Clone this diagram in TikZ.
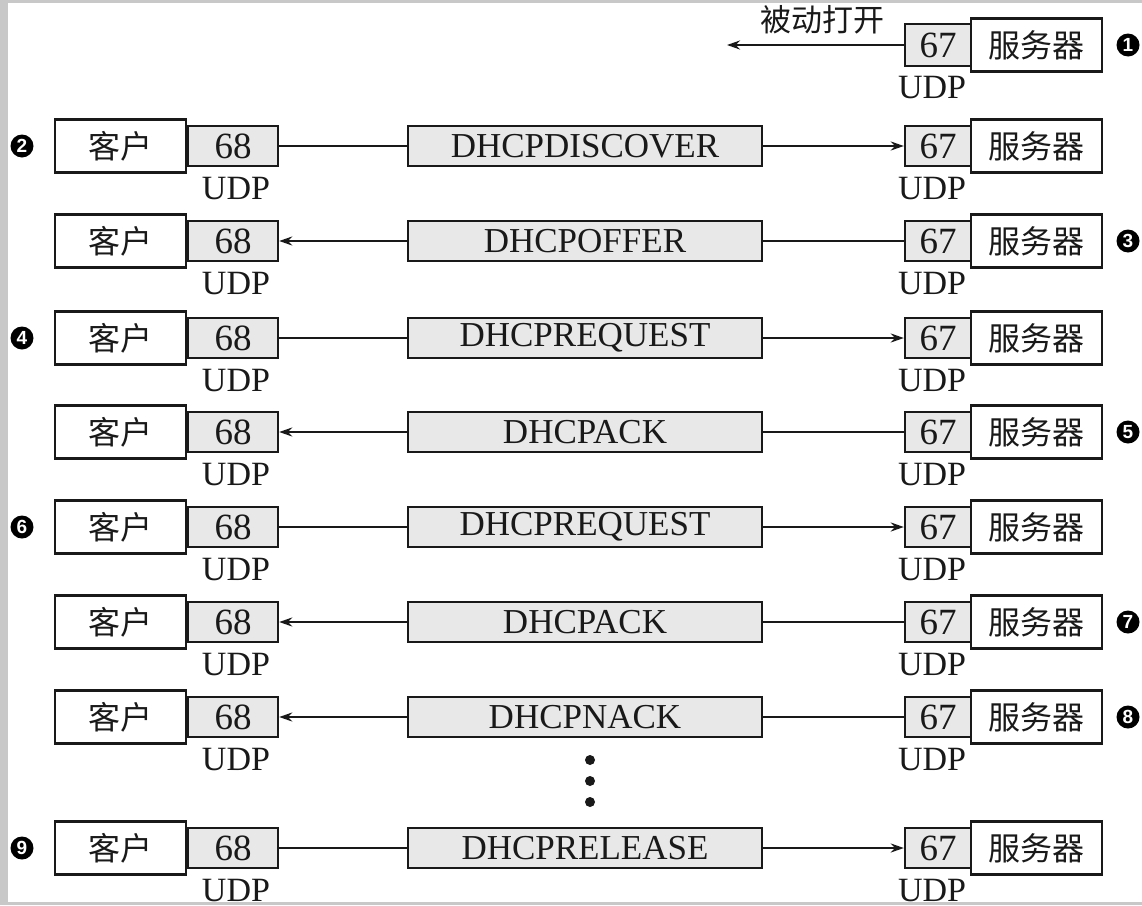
\documentclass[tikz,border=0pt]{standalone}
\usepackage{fontspec}
\setmainfont{Liberation Serif}
\newfontfamily\cjk{Noto Sans CJK SC}
\newfontfamily\numf{Liberation Sans}
\usetikzlibrary{arrows.meta}
\definecolor{boxgrey}{RGB}{232,232,232}
\definecolor{framegrey}{RGB}{200,200,200}
\definecolor{ink}{RGB}{25,25,25}
\begin{document}
\begin{tikzpicture}[x=1pt,y=-1pt,
 ent/.style={draw=ink, line width=2.4pt, fill=white, minimum width=131pt, minimum height=53pt, inner sep=0pt, text=ink, font=\cjk\fontsize{32}{36}\selectfont},
 lport/.style={draw=ink, line width=2.4pt, fill=boxgrey, minimum width=90pt, minimum height=40pt, inner sep=0pt, text=ink, font=\fontsize{37}{40}\selectfont},
 rport/.style={lport, minimum width=66pt},
 msg/.style={draw=ink, line width=2.4pt, fill=boxgrey, minimum width=354pt, minimum height=40pt, inner sep=0pt, text=ink, font=\fontsize{35}{38}\selectfont},
 udp/.style={inner sep=0pt, text=ink, font=\fontsize{34}{36}\selectfont},
 num/.style={circle, fill=black, minimum size=23pt, inner sep=0pt, text=white, font=\numf\bfseries\fontsize{19}{20}\selectfont},
 conn/.style={draw=ink, line width=2.4pt},
 arr/.style={conn, -{Stealth[length=13pt,width=9pt]}},
 dot/.style={circle, fill=ink, minimum size=10pt, inner sep=0pt},
]
\useasboundingbox (0,0) rectangle (1142,905);
\fill[framegrey] (0,0) rectangle (1142,905);
\fill[white] (8,3) rectangle (1142,902);

% row 1: passive open
\node[rport, minimum height=42pt] (sp1) at (938,45) {67};
\node[ent] (s1) at (1036.5,45) {服务器};
\node[udp] (su1) at (932,88) {UDP};
\coordinate (po) at (727,45);
\draw[arr] (sp1) -- (po);
\node[inner sep=0pt, text=ink, font=\cjk\fontsize{31}{34}\selectfont] (lbl) at (822,20) {被动打开};
\node[num] (n1) at (1128,45) {1};

\foreach \i/\y/\m/\d in {2/146/DHCPDISCOVER/1, 3/241/DHCPOFFER/0, 4/338/DHCPREQUEST/1, 5/432/DHCPACK/0, 6/527/DHCPREQUEST/1, 7/622/DHCPACK/0, 8/717/DHCPNACK/0, 9/848/DHCPRELEASE/1}{
  \node[ent] (c\i) at (120.5,\y) {客户};
  \node[lport] (cp\i) at (233,\y) {68};
  \node[msg] (m\i) at (585,\y) {\m};
  \node[rport] (sp\i) at (938,\y) {67};
  \node[ent] (s\i) at (1036.5,\y) {服务器};
  \node[udp] (cu\i) at (236,\y+43) {UDP};
  \node[udp] (su\i) at (932,\y+43) {UDP};
  \ifnum\d=1
    \draw[conn] (cp\i) -- (m\i);
    \draw[arr] (m\i) -- (sp\i);
    \node[num] (n\i) at (22,\y) {\i};
  \else
    \draw[arr] (m\i) -- (cp\i);
    \draw[conn] (sp\i) -- (m\i);
    \node[num] (n\i) at (1128,\y) {\i};
  \fi
}

\node[dot] (d1) at (590,760) {};
\node[dot] (d2) at (590,781) {};
\node[dot] (d3) at (590,802) {};
\end{tikzpicture}
\end{document}
